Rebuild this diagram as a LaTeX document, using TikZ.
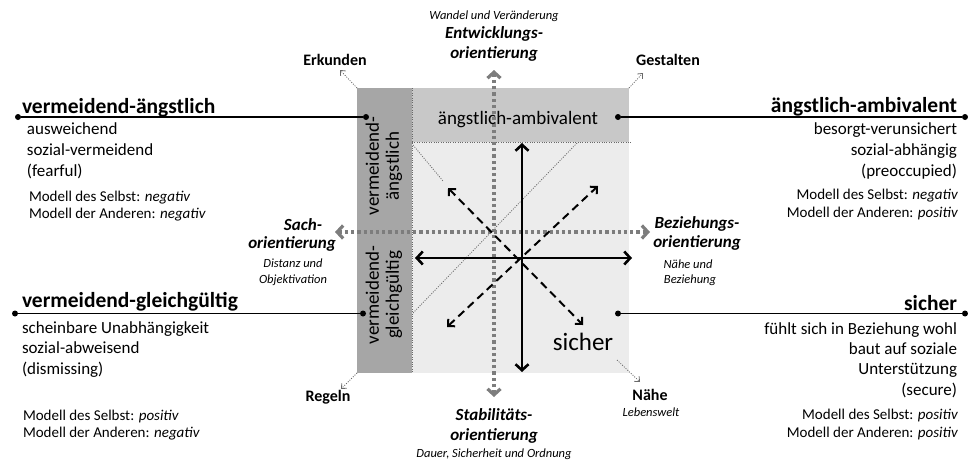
\documentclass[tikz,border=0pt]{standalone}
\usepackage{fontspec}
\setmainfont{Carlito}
\usetikzlibrary{arrows.meta}
\definecolor{coldark}{RGB}{166,166,166}
\definecolor{colband}{RGB}{200,200,200}
\definecolor{collight}{RGB}{236,236,236}
\definecolor{colaxis}{RGB}{125,125,125}
\definecolor{colthin}{RGB}{105,105,105}
\begin{document}
\begin{tikzpicture}[x=1pt,y=-1pt,
  every node/.style={inner sep=0pt, outer sep=0pt},
  title/.style={font=\fontsize{21.5}{26}\selectfont\bfseries},
  body/.style={font=\fontsize{17}{20}\selectfont},
  model/.style={font=\fontsize{15}{18}\selectfont},
  boxtext/.style={font=\fontsize{19}{21}\selectfont, align=center},
  orient/.style={font=\fontsize{17}{20}\selectfont\bfseries\itshape},
  note/.style={font=\fontsize{12.5}{15}\selectfont\itshape},
  pole/.style={font=\fontsize{16}{19}\selectfont\bfseries},
  dot/.style={circle, fill=black, minimum size=6pt},
  leader/.style={line width=1.3pt},
  thindot/.style={draw=colthin, line width=0.8pt, dash pattern=on 1pt off 1.4pt},
  thinarrow/.style={thindot, -{Straight Barb[length=4pt,width=7pt,line width=0.8pt]}},
  greyaxis/.style={draw=colaxis, line width=3.2pt, dash pattern=on 3.2pt off 3pt,
    {Straight Barb[length=6pt,width=13pt]}-{Straight Barb[length=6pt,width=13pt]}},
  mainaxis/.style={draw=black, line width=2.6pt,
    {Straight Barb[length=6pt,width=13pt]}-{Straight Barb[length=6pt,width=13pt]}},
  diagaxis/.style={draw=black, line width=2pt, dash pattern=on 8pt off 5pt,
    {Straight Barb[length=5pt,width=10pt]}-{Straight Barb[length=5pt,width=10pt]}}
]
\useasboundingbox (0,0) rectangle (968,460);

% field of attachment styles
\coordinate (boxNW) at (357,88);
\coordinate (boxNE) at (629,88);
\coordinate (boxSW) at (357,373);
\coordinate (boxSE) at (629,373);
\fill[colband] (boxNW) rectangle (629,142);
\fill[collight] (412,142) rectangle (boxSE);
\fill[coldark] (boxNW) rectangle (412,373);
\draw[thindot] (412,88) -- (412,373);
\draw[thindot] (412,142) -- (632,142);

% thin diagonals
\draw[thindot] (413,145) -- (443,181);
\draw[thindot] (577,143) -- (413,313);

% corner directions
\coordinate (erkTip) at (340,70);
\coordinate (gesTip) at (643,73);
\coordinate (regTip) at (341,389);
\coordinate (naeFrom) at (617,360);
\coordinate (naeTip) at (640,382);
\draw[thinarrow] (boxNW) -- (erkTip);
\draw[thinarrow] (boxNE) -- (gesTip);
\draw[thinarrow] (boxSW) -- (regTip);
\draw[thinarrow] (naeFrom) -- (naeTip);

% orientation axes
\coordinate (entTip) at (494,70);
\coordinate (stabTip) at (494,397);
\coordinate (sachTip) at (335,232);
\coordinate (bezTip) at (650,232);
\draw[greyaxis] (stabTip) -- (entTip);
\draw[greyaxis] (sachTip) -- (bezTip);

% diagonal dimensions
\coordinate (dNW) at (448,188);
\coordinate (dSE) at (583,325);
\coordinate (dNE) at (598,186);
\coordinate (dSW) at (447,327);
\draw[diagaxis] (dNW) -- (dSE);
\draw[diagaxis] (dSW) -- (dNE);

% main axes
\coordinate (axT) at (522,143);
\coordinate (axB) at (522,372);
\coordinate (axL) at (415,258);
\coordinate (axR) at (632,258);
\draw[mainaxis] (axB) -- (axT);
\draw[mainaxis] (axL) -- (axR);

% labels inside the field
\node[boxtext, anchor=base] (qAmb) at (518,124) {ängstlich-ambivalent};
\node[font=\fontsize{25}{28}\selectfont, anchor=base] (qSich) at (583,350) {sicher};
\node[boxtext, rotate=90, font=\fontsize{19}{20}\selectfont] (qFear) at (384,166) {vermeidend-\\ängstlich};
\node[boxtext, rotate=90, font=\fontsize{19}{20}\selectfont] (qDism) at (384,295) {vermeidend-\\gleichgültig};

% corner labels
\node[pole, anchor=base] (lErk) at (335,65) {Erkunden};
\node[pole, anchor=base] (lGes) at (668,65) {Gestalten};
\node[pole, anchor=base] (lReg) at (328,401) {Regeln};
\node[pole, anchor=base] (lNae) at (650,400) {Nähe};
\node[note, anchor=base] (lLeb) at (651,416) {Lebenswelt};

% orientation labels
\node[note, anchor=base] (oEnt0) at (494,20) {Wandel und Veränderung};
\node[orient, anchor=base] (oEnt1) at (494,39) {Entwicklungs-};
\node[orient, anchor=base] (oEnt2) at (494,59) {orientierung};
\node[orient, anchor=base] (oStab1) at (494,420) {Stabilitäts-};
\node[orient, anchor=base] (oStab2) at (494,440) {orientierung};
\node[note, anchor=base] (oStab3) at (494,457) {Dauer, Sicherheit und Ordnung};
\node[orient, anchor=base] (oSach1) at (303,230) {Sach-};
\node[orient, anchor=base] (oSach2) at (292,248) {orientierung};
\node[note, anchor=base] (oSach3) at (293,267) {Distanz und};
\node[note, anchor=base] (oSach4) at (293,283) {Objektivation};
\node[orient, anchor=base] (oBez1) at (697,228) {Beziehungs-};
\node[orient, anchor=base] (oBez2) at (697,247) {orientierung};
\node[note, anchor=base] (oBez3) at (688,268) {Nähe und};
\node[note, anchor=base] (oBez4) at (690,283) {Beziehung};

% leader lines
\node[dot] (pFearL) at (18,117) {};
\node[dot] (pFearB) at (366,117) {};
\node[dot] (pDismL) at (15,313.5) {};
\node[dot] (pDismB) at (363,313.5) {};
\node[dot] (pAmbB) at (618,117) {};
\node[dot] (pAmbR) at (965,117) {};
\node[dot] (pSichB) at (618,313.5) {};
\node[dot] (pSichR) at (965,313.5) {};
\draw[leader] (pFearL) -- (pFearB);
\draw[leader] (pDismL) -- (pDismB);
\draw[leader] (pAmbB) -- (pAmbR);
\draw[leader] (pSichB) -- (pSichR);

% vermeidend-ängstlich
\node[title, anchor=base west] (tFear) at (22,113) {vermeidend-ängstlich};
\node[body, anchor=base west] (tFear1) at (27,134) {ausweichend};
\node[body, anchor=base west] (tFear2) at (27,155) {sozial-vermeidend};
\node[body, anchor=base west] (tFear3) at (27,176) {(fearful)};
\node[model, anchor=base west] (tFear4) at (29,201) {Modell des Selbst: \textit{negativ}};
\node[model, anchor=base west] (tFear5) at (29,218) {Modell der Anderen: \textit{negativ}};

% vermeidend-gleichgültig
\node[title, anchor=base west] (tDism) at (22,307) {vermeidend-gleichgültig};
\node[body, anchor=base west] (tDism1) at (22,333) {scheinbare Unabhängigkeit};
\node[body, anchor=base west] (tDism2) at (22,353) {sozial-abweisend};
\node[body, anchor=base west] (tDism3) at (22,374) {(dismissing)};
\node[model, anchor=base west] (tDism4) at (23,420) {Modell des Selbst: \textit{positiv}};
\node[model, anchor=base west] (tDism5) at (23,437) {Modell der Anderen: \textit{negativ}};

% ängstlich-ambivalent
\node[title, anchor=base east] (tAmb) at (957,112) {ängstlich-ambivalent};
\node[body, anchor=base east] (tAmb1) at (957,134) {besorgt-verunsichert};
\node[body, anchor=base east] (tAmb2) at (957,155) {sozial-abhängig};
\node[body, anchor=base east] (tAmb3) at (957,176) {(preoccupied)};
\node[model, anchor=base east] (tAmb4) at (958,199) {Modell des Selbst: \textit{negativ}};
\node[model, anchor=base east] (tAmb5) at (958,217) {Modell der Anderen: \textit{positiv}};

% sicher
\node[title, anchor=base east] (tSich) at (957,310) {sicher};
\node[body, anchor=base east] (tSich1) at (957,334) {fühlt sich in Beziehung wohl};
\node[body, anchor=base east] (tSich2) at (957,354) {baut auf soziale};
\node[body, anchor=base east] (tSich3) at (957,374) {Unterstützung};
\node[body, anchor=base east] (tSich4) at (957,395) {(secure)};
\node[model, anchor=base east] (tSich5) at (958,419) {Modell des Selbst: \textit{positiv}};
\node[model, anchor=base east] (tSich6) at (958,437) {Modell der Anderen: \textit{positiv}};
\end{tikzpicture}
\end{document}
